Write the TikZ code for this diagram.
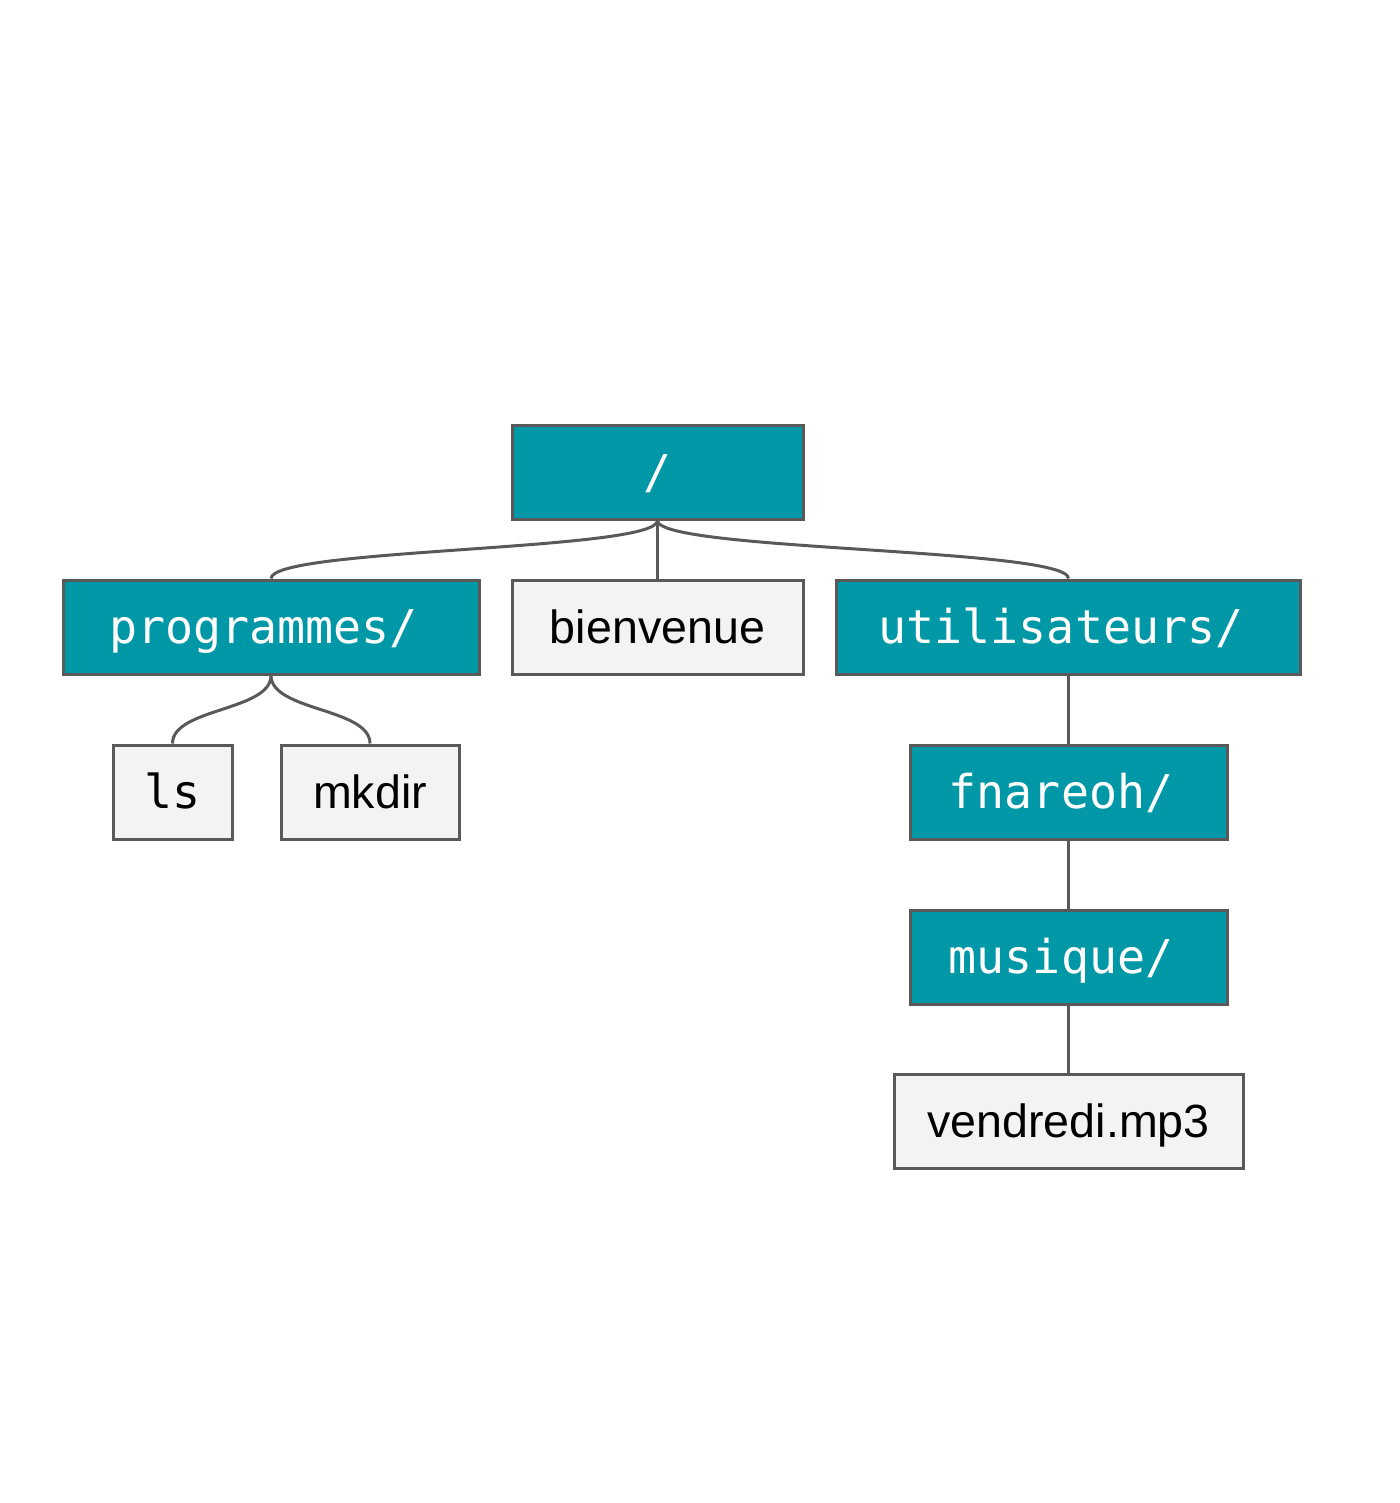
\documentclass[tikz,border=0pt]{standalone}
\usepackage{fontspec}
\setmainfont{Liberation Sans}
\setmonofont{DejaVu Sans Mono}
\usetikzlibrary{calc}
\definecolor{teal}{HTML}{0097A7}
\definecolor{edge}{HTML}{595959}
\definecolor{filebg}{HTML}{F3F3F3}
\tikzset{
  box/.style={draw=edge, line width=1.5pt, inner sep=0pt, minimum height=47pt,
    text height=20pt, text depth=4pt, font=\fontsize{23.3pt}{28pt}\selectfont},
  dirbox/.style={box, fill=teal, text=white, font=\fontsize{23.3pt}{28pt}\selectfont\ttfamily},
  filebox/.style={box, fill=filebg, text=black},
  cmdbox/.style={filebox, font=\fontsize{23.3pt}{28pt}\selectfont\ttfamily},
  conn/.style={draw=edge, line width=1.5pt}
}
\newcommand{\trail}{\rule{7.5pt}{0pt}}
\begin{document}
\begin{tikzpicture}[x=0.5pt, y=-0.5pt]
\useasboundingbox (0,0) rectangle (1400,1503);
\node[dirbox, minimum width=145.5pt] (root) at (657.5,472) {/};
\node[dirbox, minimum width=208pt] (prog) at (271,627) {programmes/\trail};
\node[filebox, minimum width=145.5pt] (bien) at (657.5,627) {bienvenue};
\node[dirbox, minimum width=232pt] (util) at (1068.5,627) {utilisateurs/\trail};
\node[cmdbox, minimum width=59.5pt] (ls) at (172.5,792) {ls};
\node[filebox, minimum width=89pt] (mkdir) at (370,792) {mkdir};
\node[dirbox, minimum width=158.5pt] (fnar) at (1068.5,792) {fnareoh/\trail};
\node[dirbox, minimum width=158.5pt] (musi) at (1068.5,957) {musique/\trail};
\node[filebox, minimum width=174.5pt] (vend) at (1068.5,1121) {vendredi.mp3};

\draw[conn] (root.south) .. controls ($(root.south)+(0,30.5)$) and ($(prog.north)+(0,-30.5)$) .. (prog.north);
\draw[conn] (root.south) .. controls ($(root.south)+(0,30.5)$) and ($(util.north)+(0,-30.5)$) .. (util.north);
\draw[conn] (root.south) -- (bien.north);
\draw[conn] (prog.south) .. controls ($(prog.south)+(0,35.5)$) and ($(ls.north)+(0,-35.5)$) .. (ls.north);
\draw[conn] (prog.south) .. controls ($(prog.south)+(0,35.5)$) and ($(mkdir.north)+(0,-35.5)$) .. (mkdir.north);
\draw[conn] (util.south) -- (fnar.north);
\draw[conn] (fnar.south) -- (musi.north);
\draw[conn] (musi.south) -- (vend.north);
\end{tikzpicture}
\end{document}
